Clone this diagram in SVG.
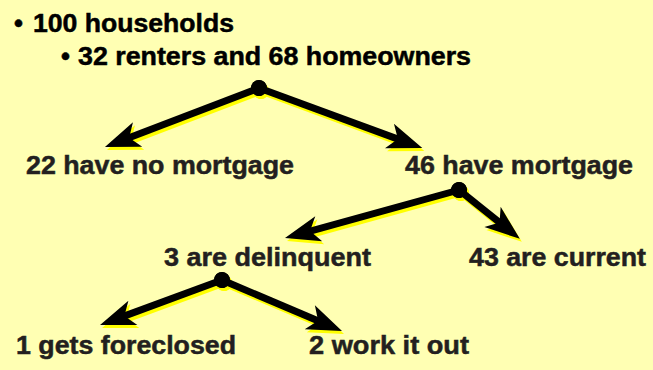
<svg xmlns="http://www.w3.org/2000/svg" xmlns:xlink="http://www.w3.org/1999/xlink" width="653" height="370" viewBox="0 0 653 370">
<style>
text{font-family:"Liberation Sans",Arial,Helvetica,sans-serif;font-weight:bold;font-size:25.5px;stroke-width:0.5px;}
.hdr{fill:#000;stroke:#000;}
.lbl{fill:#231f20;stroke:#231f20;}
.ln{fill:none;stroke:currentColor;stroke-width:7;}
.hd{fill:currentColor;stroke:none;}
.sh{color:#ffff00;}
.fg{color:#000;}
</style>
<defs>
<g id="a1" transform="translate(259,88) rotate(159.04)"><path class="ln" d="M0,0H142"/><path class="hd" d="M165,0L130,-13L139,0L130,13Z"/><circle class="hd" r="8"/></g>
<g id="a2" transform="translate(259,88) rotate(20.2)"><path class="ln" d="M0,0H151"/><path class="hd" d="M174,0L139,-13L148,0L139,13Z"/><circle class="hd" r="8"/></g>
<g id="a3" transform="translate(459,190) rotate(164.58)"><path class="ln" d="M0,0H158"/><path class="hd" d="M180.5,0L145.5,-13L154.5,0L145.5,13Z"/><circle class="hd" r="8"/></g>
<g id="a4" transform="translate(459,190) rotate(38.77)"><path class="ln" d="M0,0H56"/><path class="hd" d="M78,0L43,-13L52,0L43,13Z"/><circle class="hd" r="8"/></g>
<g id="a5" transform="translate(222,280) rotate(159.75)"><path class="ln" d="M0,0H108"/><path class="hd" d="M130,0L95,-13L104,0L95,13Z"/><circle class="hd" r="8"/></g>
<g id="a6" transform="translate(222,280) rotate(23.03)"><path class="ln" d="M0,0H108"/><path class="hd" d="M130.4,0L95.4,-13L104.4,0L95.4,13Z"/><circle class="hd" r="8"/></g>
</defs>
<rect width="653" height="370" fill="#ffffb3"/>
<g id="header">
<text class="hdr" x="14" y="32">•</text>
<text class="hdr" x="33" y="32" textLength="201" lengthAdjust="spacingAndGlyphs">100 households</text>
<text class="hdr" x="61" y="65">•</text>
<text class="hdr" x="78" y="65" textLength="393" lengthAdjust="spacingAndGlyphs">32 renters and 68 homeowners</text>
</g>
<g id="connectors">
<g class="sh" transform="translate(2,3)">
<use xlink:href="#a1"/><use xlink:href="#a2"/><use xlink:href="#a3"/><use xlink:href="#a4"/><use xlink:href="#a5"/><use xlink:href="#a6"/>
</g>
<g class="fg">
<use xlink:href="#a1"/><use xlink:href="#a2"/><use xlink:href="#a3"/><use xlink:href="#a4"/><use xlink:href="#a5"/><use xlink:href="#a6"/>
</g>
</g>
<g id="n-nomortgage"><text class="lbl" x="26" y="174" textLength="268" lengthAdjust="spacingAndGlyphs">22 have no mortgage</text></g>
<g id="n-mortgage"><text class="lbl" x="405" y="174" textLength="228" lengthAdjust="spacingAndGlyphs">46 have mortgage</text></g>
<g id="n-delinquent"><text class="lbl" x="164" y="266" textLength="207" lengthAdjust="spacingAndGlyphs">3 are delinquent</text></g>
<g id="n-current"><text class="lbl" x="469" y="266" textLength="177" lengthAdjust="spacingAndGlyphs">43 are current</text></g>
<g id="n-foreclosed"><text class="lbl" x="16" y="354" textLength="220" lengthAdjust="spacingAndGlyphs">1 gets foreclosed</text></g>
<g id="n-workout"><text class="lbl" x="309" y="354" textLength="160" lengthAdjust="spacingAndGlyphs">2 work it out</text></g>
</svg>
